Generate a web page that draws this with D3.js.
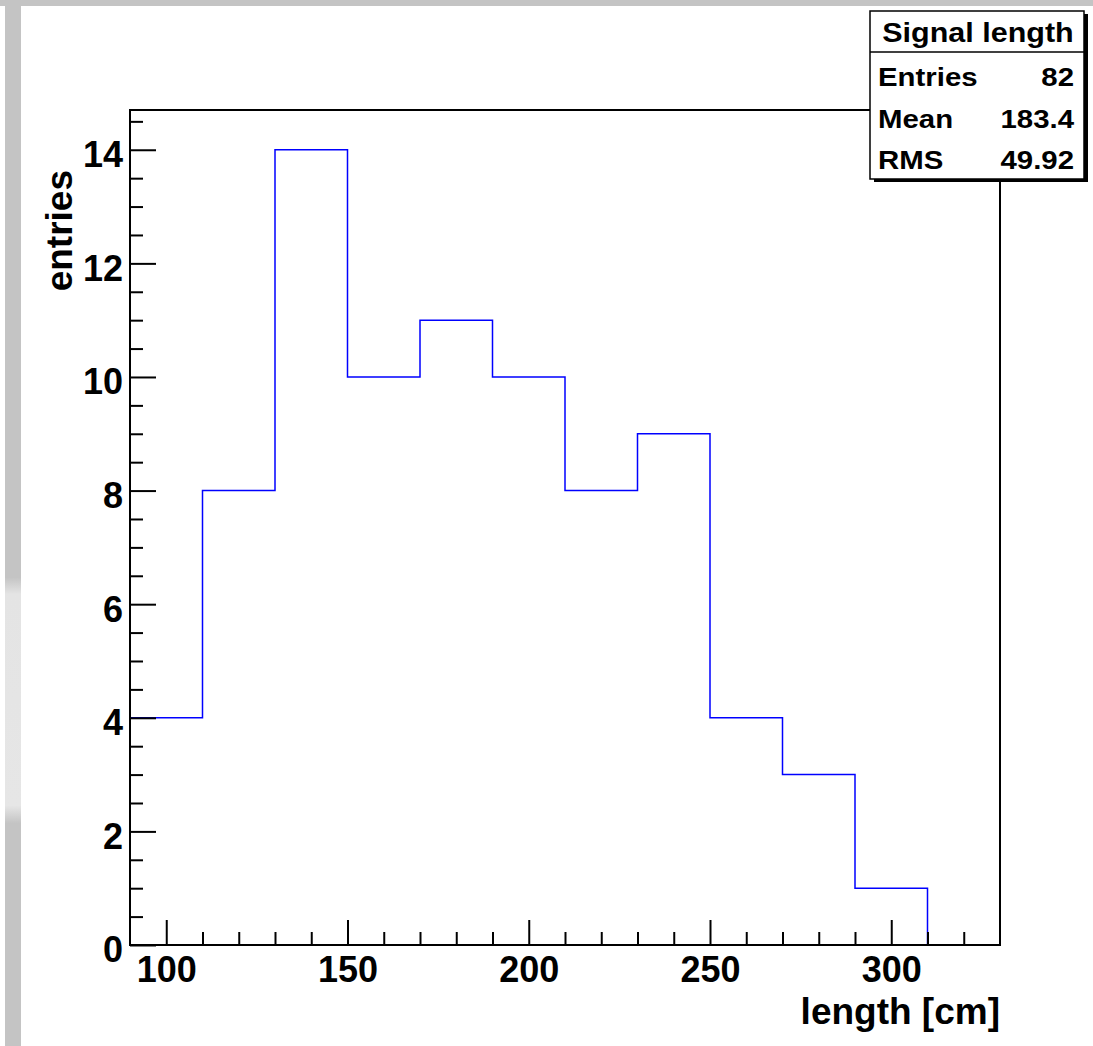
<!DOCTYPE html>
<html>
<head>
<meta charset="utf-8">
<script src="https://cdn.jsdelivr.net/npm/d3@7"></script>
<style>
  body { margin: 0; background: #fff; }
  svg { display: block; }
  text { font-family: "Liberation Sans", Arial, Helvetica, sans-serif; font-weight: bold; fill: #000; }
</style>
</head>
<body>
<div id="chart"></div>
<script>
// histogram "Signal length"
var binEdges = [90, 110, 130, 150, 170, 190, 210, 230, 250, 270, 290, 310, 330];
var counts = [4, 8, 14, 10, 11, 10, 8, 9, 4, 3, 1, 0];
var xMajorTicks = [100, 150, 200, 250, 300];
var xMinorTicks = [110, 120, 130, 140, 160, 170, 180, 190, 210, 220, 230, 240, 260, 270, 280, 290, 310, 320];
var yMajorTicks = [0, 2, 4, 6, 8, 10, 12, 14];
var yMinorTicks = [0.5, 1, 1.5, 2.5, 3, 3.5, 4.5, 5, 5.5, 6.5, 7, 7.5, 8.5, 9, 9.5, 10.5, 11, 11.5, 12.5, 13, 13.5, 14.5];
var statNames = ["Entries", "Mean", "RMS"];
var statValues = ["82", "183.4", "49.92"];

var width = 1093,
    height = 1046,
    padL = 130, padR = 1000, padT = 110, padB = 945;

var x = d3.scaleLinear().domain([90, 330]).range([padL, padR]);
var y = d3.scaleLinear().domain([0, 14.7]).range([padB, padT]);

var svg = d3.select("#chart").append("svg")
    .attr("width", width)
    .attr("height", height);

// canvas border (grey bars)
var grad = svg.append("defs").append("linearGradient")
    .attr("id", "barfade")
    .attr("x1", 0).attr("y1", 0).attr("x2", 0).attr("y2", 1);
[[0, "#c4c4c4"], [0.552, "#c4c4c4"], [0.568, "#e4e4e4"], [0.77, "#e6e6e6"], [0.787, "#c4c4c4"], [1, "#c4c4c4"]]
  .forEach(function(s) {
    grad.append("stop").attr("offset", s[0]).attr("stop-color", s[1]);
  });

svg.append("rect").attr("x", 0).attr("y", 0).attr("width", width).attr("height", 6).style("fill", "#c4c4c4");
svg.append("rect").attr("x", 5).attr("y", 0).attr("width", 16).attr("height", height).style("fill", "url(#barfade)");

// histogram line
var line = d3.line()
    .x(function(d) { return x(d[0]); })
    .y(function(d) { return y(d[1]); })
    .curve(d3.curveStepAfter);

var pts = counts.map(function(c, i) { return [binEdges[i], c]; });
pts.push([binEdges[binEdges.length - 1], counts[counts.length - 1]]);

svg.append("path")
    .attr("d", line(pts))
    .style("fill", "none")
    .style("stroke", "#0000ff")
    .style("stroke-width", 1.5);

// axes
var xMajor = svg.append("g")
    .attr("transform", "translate(0," + padB + ")")
    .call(d3.axisBottom(x).tickValues(xMajorTicks).tickSizeInner(-25).tickSizeOuter(0).tickPadding(11));
var xMinor = svg.append("g")
    .attr("transform", "translate(0," + padB + ")")
    .call(d3.axisBottom(x).tickValues(xMinorTicks).tickSizeInner(-13).tickSizeOuter(0).tickFormat(""));
var yMajor = svg.append("g")
    .attr("transform", "translate(" + padL + ",0)")
    .call(d3.axisLeft(y).tickValues(yMajorTicks).tickSizeInner(-26).tickSizeOuter(0).tickPadding(7));
var yMinor = svg.append("g")
    .attr("transform", "translate(" + padL + ",0)")
    .call(d3.axisLeft(y).tickValues(yMinorTicks).tickSizeInner(-13).tickSizeOuter(0).tickFormat(""));

svg.selectAll(".domain").remove();
svg.selectAll(".tick line").style("stroke", "#000").style("stroke-width", 2);
svg.selectAll(".tick text")
    .style("font-size", "36px")
    .style("font-family", "'Liberation Sans', Arial, sans-serif")
    .style("font-weight", "bold");
yMajor.selectAll(".tick text").attr("dy", "0.47em");

// frame
svg.append("rect")
    .attr("x", padL).attr("y", padT)
    .attr("width", padR - padL).attr("height", padB - padT)
    .style("fill", "none").style("stroke", "#000").style("stroke-width", 2);

// axis titles
svg.append("text")
    .attr("x", padR).attr("y", 1024)
    .attr("text-anchor", "end")
    .style("font-size", "37px")
    .text("length [cm]");

svg.append("text")
    .attr("transform", "translate(72,170) rotate(-90)")
    .attr("text-anchor", "end")
    .style("font-size", "37px")
    .text("entries");

// stats box
var bx = 870, by = 11, bw = 214, bh = 168, sx = 1.13;
var stats = svg.append("g");
stats.append("rect")
    .attr("x", bx + 4).attr("y", by + 3).attr("width", bw).attr("height", bh)
    .style("fill", "#000");
stats.append("rect")
    .attr("x", bx).attr("y", by).attr("width", bw).attr("height", bh)
    .style("fill", "#fff").style("stroke", "#000").style("stroke-width", 1.5);
stats.append("line")
    .attr("x1", bx).attr("x2", bx + bw).attr("y1", 52).attr("y2", 52)
    .style("stroke", "#000").style("stroke-width", 1.5);
stats.append("text")
    .attr("transform", "translate(" + (bx + bw / 2 + 1) + ",42) scale(" + sx + ",1)")
    .attr("text-anchor", "middle")
    .style("font-size", "27px")
    .text("Signal length");

statNames.forEach(function(n, i) {
  var ty = 86 + i * 41.5;
  stats.append("text")
      .attr("transform", "translate(878," + ty + ") scale(" + sx + ",1)")
      .style("font-size", "26px")
      .text(n);
  stats.append("text")
      .attr("transform", "translate(1074," + ty + ") scale(" + sx + ",1)")
      .attr("text-anchor", "end")
      .style("font-size", "26px")
      .text(statValues[i]);
});
</script>
</body>
</html>
